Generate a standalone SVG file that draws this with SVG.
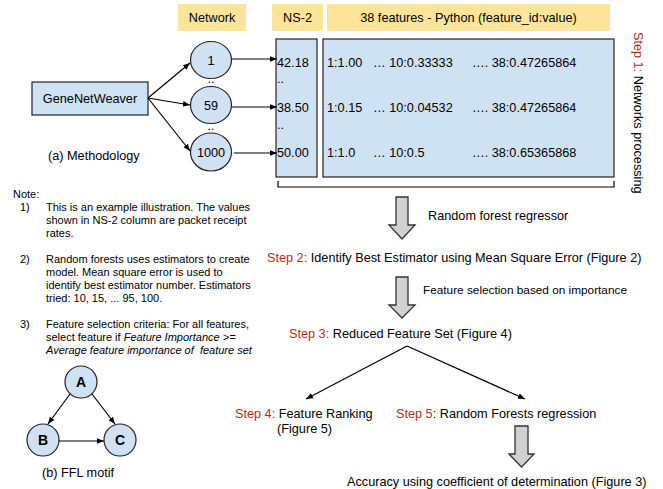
<svg xmlns="http://www.w3.org/2000/svg" width="663" height="489" viewBox="0 0 663 489">
  <style>
    text { font-family: "Liberation Sans", Arial, sans-serif; fill: #000; }
    .t { font-size: 12.7px; }
    .s { font-size: 11.8px; }
    .n { font-size: 11px; }
    .step { fill: #a8321e; }
    .hdr { fill: #ffe599; }
    .blue { fill: #cfe2f3; stroke: #222; stroke-width: 1.2; }
    .line { fill: none; stroke: #000; stroke-width: 1.2; }
    .block { fill: #d0d0d0; stroke: #333; stroke-width: 1.3; }
    .bold { font-weight: bold; font-size: 14px; }
  </style>
  <defs>
    <marker id="ah" viewBox="0 0 10 10" refX="10" refY="5" markerWidth="7" markerHeight="7" markerUnits="userSpaceOnUse" orient="auto">
      <path d="M0,1 L10,5 L0,9 z" fill="#000"/>
    </marker>
  </defs>

  <!-- column headers -->
  <g id="hdr-network">
    <rect class="hdr" x="178" y="4" width="68" height="27"/>
    <text class="t" x="212" y="22" text-anchor="middle">Network</text>
  </g>
  <g id="hdr-ns2">
    <rect class="hdr" x="272" y="4" width="51" height="27"/>
    <text class="t" x="297.5" y="22" text-anchor="middle">NS-2</text>
  </g>
  <g id="hdr-features">
    <rect class="hdr" x="327" y="4" width="283" height="27"/>
    <text class="t" x="468.5" y="22" text-anchor="middle">38 features - Python (feature_id:value)</text>
  </g>

  <!-- generator -->
  <g id="genenetweaver">
    <rect class="blue" x="32" y="82" width="116" height="33"/>
    <text class="t" x="90" y="103" text-anchor="middle">GeneNetWeaver</text>
  </g>
  <text class="t" x="48" y="160">(a) Methodology</text>

  <!-- networks -->
  <g id="net-1">
    <ellipse class="blue" cx="211" cy="60" rx="20.5" ry="18.5"/>
    <text class="t" x="211" y="64.5" text-anchor="middle">1</text>
  </g>
  <g id="net-59">
    <ellipse class="blue" cx="211" cy="105" rx="20.5" ry="18.5"/>
    <text class="t" x="211" y="109.5" text-anchor="middle">59</text>
  </g>
  <g id="net-1000">
    <ellipse class="blue" cx="211" cy="152" rx="20.5" ry="19"/>
    <text class="t" x="211" y="157" text-anchor="middle">1000</text>
  </g>
  <text class="t" x="211" y="83" text-anchor="middle">..</text>
  <text class="t" x="211" y="130" text-anchor="middle">..</text>

  <!-- NS-2 column -->
  <g id="ns2-column">
    <rect class="blue" x="276" y="39" width="41" height="138"/>
    <text class="t" x="277" y="66.5">42.18</text>
    <text class="t" x="277" y="83">..</text>
    <text class="t" x="277" y="112">38.50</text>
    <text class="t" x="277" y="129">..</text>
    <text class="t" x="277" y="157">50.00</text>
  </g>

  <!-- feature table -->
  <g id="feature-table">
    <rect class="blue" x="323" y="39" width="291" height="138"/>
    <text class="t" x="327" y="66.5">1:1.00</text>
    <text class="t" x="373" y="66.5">… 10:0.33333</text>
    <text class="t" x="472" y="66.5">…. 38:0.47265864</text>
    <text class="t" x="327" y="112">1:0.15</text>
    <text class="t" x="373" y="112">… 10:0.04532</text>
    <text class="t" x="472" y="112">…. 38:0.47265864</text>
    <text class="t" x="327" y="157">1:1.0</text>
    <text class="t" x="373" y="157">… 10:0.5</text>
    <text class="t" x="472" y="157">…. 38:0.65365868</text>
  </g>

  <!-- step 1 label -->
  <text class="t" transform="translate(634,32) rotate(90)"><tspan class="step">Step 1:</tspan> Networks processing</text>

  <!-- flow steps -->
  <g id="step2">
    <text class="t" x="267" y="261.5"><tspan class="step">Step 2:</tspan> Identify Best Estimator using Mean Square Error (Figure 2)</text>
  </g>
  <g id="step3">
    <text class="t" x="289" y="337.5"><tspan class="step">Step 3:</tspan> Reduced Feature Set (Figure 4)</text>
  </g>
  <g id="step4">
    <text class="t" x="235" y="417.5"><tspan class="step">Step 4:</tspan> Feature Ranking</text>
    <text class="t" x="277" y="432.5">(Figure 5)</text>
  </g>
  <g id="step5">
    <text class="t" x="396" y="417.5"><tspan class="step">Step 5</tspan>: Random Forests regression</text>
  </g>
  <g id="accuracy">
    <text class="t" x="347" y="485.5">Accuracy using coefficient of determination (Figure 3)</text>
  </g>
  <text class="t" x="428" y="219.5">Random forest regressor</text>
  <text class="s" x="423" y="294">Feature selection based on importance</text>

  <!-- notes -->
  <g id="notes">
    <text class="n" x="13" y="198">Note:</text>
    <text class="n" x="20" y="210.5">1)</text>
    <text class="n" x="46" y="210.5">This is an example illustration. The values</text>
    <text class="n" x="46" y="223.7">shown in NS-2 column are packet receipt</text>
    <text class="n" x="46" y="236.9">rates.</text>
    <text class="n" x="20" y="263">2)</text>
    <text class="n" x="46" y="263">Random forests uses estimators to create</text>
    <text class="n" x="46" y="276">model. Mean square error is used to</text>
    <text class="n" x="46" y="289">identify best estimator number. Estimators</text>
    <text class="n" x="46" y="302">tried: 10, 15, ... 95, 100.</text>
    <text class="n" x="20" y="328">3)</text>
    <text class="n" x="46" y="328">Feature selection criteria: For all features,</text>
    <text class="n" x="46" y="341">select feature if <tspan font-style="italic">Feature Importance &gt;=</tspan></text>
    <text class="n" x="46" y="354" font-style="italic" xml:space="preserve">Average feature importance of  feature set</text>
  </g>

  <!-- FFL motif -->
  <g id="ffl-a">
    <circle class="blue" cx="81" cy="382" r="16"/>
    <text class="bold" x="81" y="387" text-anchor="middle">A</text>
  </g>
  <g id="ffl-b">
    <circle class="blue" cx="43" cy="440" r="16"/>
    <text class="bold" x="43" y="445" text-anchor="middle">B</text>
  </g>
  <g id="ffl-c">
    <circle class="blue" cx="120" cy="440" r="16"/>
    <text class="bold" x="120" y="445" text-anchor="middle">C</text>
  </g>
  <text class="t" x="78" y="477" text-anchor="middle">(b) FFL motif</text>

  <!-- connectors -->
  <g id="connectors">
    <line class="line" x1="148" y1="98" x2="190" y2="63" marker-end="url(#ah)"/>
    <line class="line" x1="148" y1="98" x2="190" y2="105" marker-end="url(#ah)"/>
    <line class="line" x1="148" y1="98" x2="190" y2="151" marker-end="url(#ah)"/>
    <line class="line" x1="232" y1="59" x2="277" y2="59" marker-end="url(#ah)"/>
    <line class="line" x1="232" y1="107" x2="277" y2="107" marker-end="url(#ah)"/>
    <line class="line" x1="234" y1="153" x2="277" y2="153" marker-end="url(#ah)"/>
    <path class="line" d="M278,181 V187 H614 V181"/>
    <path class="block" d="M396,197 H408 V225 H415 L402,239 L389,225 H396 Z"/>
    <path class="block" d="M396,277 H408 V305 H415 L402,318 L389,305 H396 Z"/>
    <path class="block" d="M515,426 H528 V454 H534 L521.5,467 L509,454 H515 Z"/>
    <line class="line" x1="407" y1="346" x2="306" y2="399" marker-end="url(#ah)"/>
    <line class="line" x1="407" y1="346" x2="525" y2="399" marker-end="url(#ah)"/>
    <line class="line" x1="70" y1="394" x2="48" y2="424" marker-end="url(#ah)"/>
    <line class="line" x1="92" y1="394" x2="115" y2="424" marker-end="url(#ah)"/>
    <line class="line" x1="59" y1="441" x2="104" y2="441" marker-end="url(#ah)"/>
  </g>
</svg>
